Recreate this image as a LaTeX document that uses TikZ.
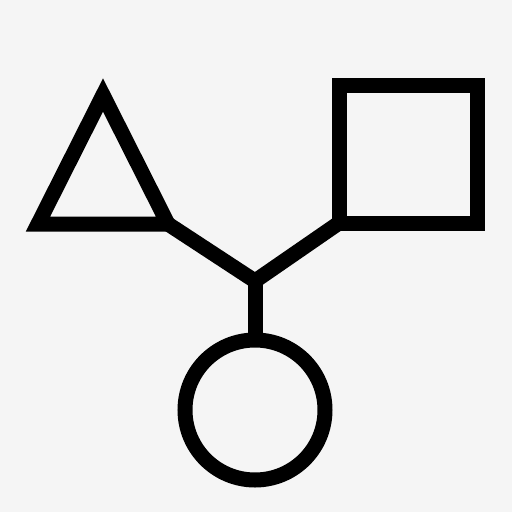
\documentclass[tikz,border=0pt]{standalone}
\usepackage{tikz}
\usepackage{xcolor}
\usetikzlibrary{positioning, calc}
\definecolor{bggray}{RGB}{245,245,245}

\begin{document}
\begin{tikzpicture}[
            x=1pt, y=-1pt,
            outline/.style={draw=black, line width=15pt, miter limit=10, line join=miter},
            shapebox/.style={outline, rectangle, minimum size=138pt, inner sep=0pt, outer sep=0pt},
            shapering/.style={outline, circle, minimum size=140pt, inner sep=0pt, outer sep=0pt},
            link/.style={draw=black, line width=15pt, line join=miter, miter limit=10}
        ]

% Background
            \fill[bggray] (0,0) rectangle (512,512);
            \useasboundingbox (0,0) rectangle (512,512);

% Shapes
            \coordinate (triL) at (38,224);
            \coordinate (triTop) at (103,95);
            \coordinate (triR) at (168,224);
            \draw[outline] (triL) -- (triTop) -- (triR) -- cycle;
            \node[shapebox] (square) at (408,154) {};
            \node[shapering] (ring) at (255,410) {};

% Connectors
            \coordinate (fork) at (255,281);
            \draw[link] (triR) -- (fork) -- (square.south west);
            \draw[link] (fork) -- (ring.north);

        \end{tikzpicture}
\end{document}
